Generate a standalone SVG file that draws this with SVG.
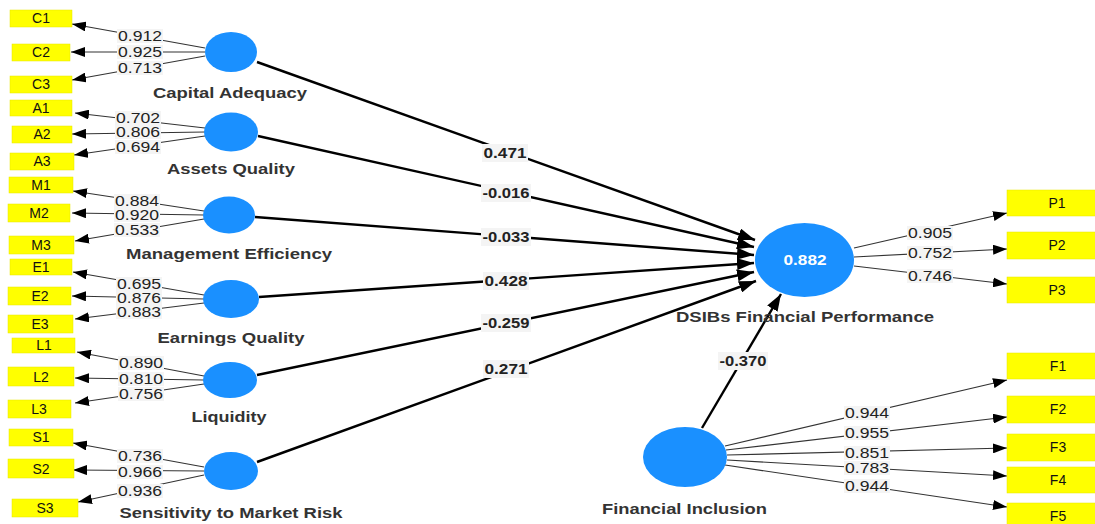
<svg xmlns="http://www.w3.org/2000/svg" width="1095" height="524" viewBox="0 0 1095 524">
<style>
.box{fill:#ffff00;stroke:#e6e600;stroke-width:0.5}
.bt{font-family:"Liberation Sans",Arial,sans-serif;font-size:14px;fill:#111;text-anchor:middle}
.lat{fill:#1a90ff}
.ll{font-family:"Liberation Sans",Arial,sans-serif;font-size:15px;font-weight:bold;fill:#333;text-anchor:middle}
.thin{stroke:#333;stroke-width:1.2;fill:none;marker-end:url(#ah)}
.thick{stroke:#000;stroke-width:2.4;fill:none;marker-end:url(#ahb)}
.lb{fill:#f4f4f4}
.ln{font-family:"Liberation Sans",Arial,sans-serif;font-size:14px;fill:#222;text-anchor:middle}
.pn{font-family:"Liberation Sans",Arial,sans-serif;font-size:14px;font-weight:bold;fill:#222;text-anchor:middle}
</style>
<defs>
<marker id="ah" markerUnits="userSpaceOnUse" markerWidth="14" markerHeight="10" refX="14" refY="5" orient="auto"><path d="M0,0 L14,5 L0,10 z" fill="#000"/></marker>
<marker id="ahb" markerUnits="userSpaceOnUse" markerWidth="17" markerHeight="12" refX="17" refY="6" orient="auto"><path d="M0,0 L17,6 L0,12 z" fill="#000"/></marker>
</defs>
<rect width="1095" height="524" fill="#fff"/>
<g id="connectors">
<line class="thin" x1="205" y1="48" x2="72" y2="24"/>
<line class="thin" x1="205" y1="52" x2="71" y2="52"/>
<line class="thin" x1="205" y1="56" x2="72" y2="80"/>
<line class="thin" x1="205" y1="128" x2="75" y2="113"/>
<line class="thin" x1="205" y1="132" x2="72" y2="134"/>
<line class="thin" x1="205" y1="136" x2="74" y2="155"/>
<line class="thin" x1="204" y1="211" x2="73" y2="191"/>
<line class="thin" x1="204" y1="215" x2="72" y2="213"/>
<line class="thin" x1="204" y1="219" x2="75" y2="241"/>
<line class="thin" x1="204" y1="295" x2="73" y2="272"/>
<line class="thin" x1="204" y1="299" x2="72" y2="296"/>
<line class="thin" x1="204" y1="303" x2="75" y2="319"/>
<line class="thin" x1="204" y1="376" x2="77" y2="352"/>
<line class="thin" x1="204" y1="380" x2="75" y2="378"/>
<line class="thin" x1="204" y1="384" x2="75" y2="403"/>
<line class="thin" x1="204" y1="467" x2="73" y2="443"/>
<line class="thin" x1="204" y1="471" x2="73" y2="470"/>
<line class="thin" x1="204" y1="475" x2="78" y2="502"/>
<line class="thin" x1="854" y1="248" x2="1007" y2="213"/>
<line class="thin" x1="854" y1="257" x2="1007" y2="249"/>
<line class="thin" x1="854" y1="266" x2="1007" y2="284"/>
<line class="thin" x1="725" y1="446" x2="1007" y2="380"/>
<line class="thin" x1="726" y1="450" x2="1007" y2="417"/>
<line class="thin" x1="727" y1="455" x2="1007" y2="448"/>
<line class="thin" x1="727" y1="460" x2="1007" y2="476"/>
<line class="thin" x1="725" y1="465" x2="1007" y2="507"/>
<line class="thick" x1="257" y1="62" x2="755" y2="240"/>
<line class="thick" x1="258" y1="136" x2="754" y2="247"/>
<line class="thick" x1="255" y1="217" x2="754" y2="255"/>
<line class="thick" x1="259" y1="297" x2="754" y2="263"/>
<line class="thick" x1="257" y1="375" x2="754" y2="272"/>
<line class="thick" x1="257" y1="462" x2="756" y2="281"/>
<line class="thick" x1="702" y1="428" x2="781" y2="294"/>
<g id="loading-labels">
<rect class="lb" x="117" y="29" width="46" height="14"/><text class="ln" x="140" y="41" textLength="44" lengthAdjust="spacingAndGlyphs">0.912</text>
<rect class="lb" x="117" y="45" width="46" height="14"/><text class="ln" x="140" y="57" textLength="44" lengthAdjust="spacingAndGlyphs">0.925</text>
<rect class="lb" x="117" y="61" width="46" height="14"/><text class="ln" x="140" y="73" textLength="44" lengthAdjust="spacingAndGlyphs">0.713</text>
<rect class="lb" x="115" y="111" width="46" height="14"/><text class="ln" x="138" y="123" textLength="44" lengthAdjust="spacingAndGlyphs">0.702</text>
<rect class="lb" x="115" y="125" width="46" height="14"/><text class="ln" x="138" y="137" textLength="44" lengthAdjust="spacingAndGlyphs">0.806</text>
<rect class="lb" x="115" y="140" width="46" height="14"/><text class="ln" x="138" y="152" textLength="44" lengthAdjust="spacingAndGlyphs">0.694</text>
<rect class="lb" x="114" y="194" width="46" height="14"/><text class="ln" x="137" y="206" textLength="44" lengthAdjust="spacingAndGlyphs">0.884</text>
<rect class="lb" x="114" y="208" width="46" height="14"/><text class="ln" x="137" y="220" textLength="44" lengthAdjust="spacingAndGlyphs">0.920</text>
<rect class="lb" x="114" y="223" width="46" height="14"/><text class="ln" x="137" y="235" textLength="44" lengthAdjust="spacingAndGlyphs">0.533</text>
<rect class="lb" x="116" y="277" width="46" height="14"/><text class="ln" x="139" y="289" textLength="44" lengthAdjust="spacingAndGlyphs">0.695</text>
<rect class="lb" x="116" y="291" width="46" height="14"/><text class="ln" x="139" y="303" textLength="44" lengthAdjust="spacingAndGlyphs">0.876</text>
<rect class="lb" x="116" y="305" width="46" height="14"/><text class="ln" x="139" y="317" textLength="44" lengthAdjust="spacingAndGlyphs">0.883</text>
<rect class="lb" x="118" y="356" width="46" height="14"/><text class="ln" x="141" y="368" textLength="44" lengthAdjust="spacingAndGlyphs">0.890</text>
<rect class="lb" x="118" y="372" width="46" height="14"/><text class="ln" x="141" y="384" textLength="44" lengthAdjust="spacingAndGlyphs">0.810</text>
<rect class="lb" x="118" y="387" width="46" height="14"/><text class="ln" x="141" y="399" textLength="44" lengthAdjust="spacingAndGlyphs">0.756</text>
<rect class="lb" x="117" y="449" width="46" height="14"/><text class="ln" x="140" y="461" textLength="44" lengthAdjust="spacingAndGlyphs">0.736</text>
<rect class="lb" x="117" y="465" width="46" height="14"/><text class="ln" x="140" y="477" textLength="44" lengthAdjust="spacingAndGlyphs">0.966</text>
<rect class="lb" x="117" y="484" width="46" height="14"/><text class="ln" x="140" y="496" textLength="44" lengthAdjust="spacingAndGlyphs">0.936</text>
<rect class="lb" x="907" y="226" width="46" height="14"/><text class="ln" x="930" y="238" textLength="44" lengthAdjust="spacingAndGlyphs">0.905</text>
<rect class="lb" x="907" y="246" width="46" height="14"/><text class="ln" x="930" y="258" textLength="44" lengthAdjust="spacingAndGlyphs">0.752</text>
<rect class="lb" x="907" y="269" width="46" height="14"/><text class="ln" x="930" y="281" textLength="44" lengthAdjust="spacingAndGlyphs">0.746</text>
<rect class="lb" x="844" y="406" width="46" height="14"/><text class="ln" x="867" y="418" textLength="44" lengthAdjust="spacingAndGlyphs">0.944</text>
<rect class="lb" x="844" y="426" width="46" height="14"/><text class="ln" x="867" y="438" textLength="44" lengthAdjust="spacingAndGlyphs">0.955</text>
<rect class="lb" x="844" y="446" width="46" height="14"/><text class="ln" x="867" y="458" textLength="44" lengthAdjust="spacingAndGlyphs">0.851</text>
<rect class="lb" x="844" y="461" width="46" height="14"/><text class="ln" x="867" y="473" textLength="44" lengthAdjust="spacingAndGlyphs">0.783</text>
<rect class="lb" x="844" y="479" width="46" height="14"/><text class="ln" x="867" y="491" textLength="44" lengthAdjust="spacingAndGlyphs">0.944</text>
</g>
<g id="path-labels">
<rect class="lb" x="482" y="144" width="46" height="18"/><text class="pn" x="505" y="158" textLength="43" lengthAdjust="spacingAndGlyphs">0.471</text>
<rect class="lb" x="481" y="184" width="50" height="18"/><text class="pn" x="506" y="198" textLength="47" lengthAdjust="spacingAndGlyphs">-0.016</text>
<rect class="lb" x="481" y="228" width="50" height="18"/><text class="pn" x="506" y="242" textLength="47" lengthAdjust="spacingAndGlyphs">-0.033</text>
<rect class="lb" x="483" y="272" width="46" height="18"/><text class="pn" x="506" y="286" textLength="43" lengthAdjust="spacingAndGlyphs">0.428</text>
<rect class="lb" x="481" y="314" width="50" height="18"/><text class="pn" x="506" y="328" textLength="47" lengthAdjust="spacingAndGlyphs">-0.259</text>
<rect class="lb" x="483" y="360" width="46" height="18"/><text class="pn" x="506" y="374" textLength="43" lengthAdjust="spacingAndGlyphs">0.271</text>
<rect class="lb" x="718" y="352" width="50" height="18"/><text class="pn" x="743" y="366" textLength="47" lengthAdjust="spacingAndGlyphs">-0.370</text>
</g>
</g>
<g id="C1"><rect class="box" x="10" y="10" width="62" height="17"/><text class="bt" x="41" y="23">C1</text></g>
<g id="C2"><rect class="box" x="12" y="44" width="58" height="17"/><text class="bt" x="41" y="57">C2</text></g>
<g id="C3"><rect class="box" x="10" y="76" width="62" height="17"/><text class="bt" x="41" y="89">C3</text></g>
<g id="A1"><rect class="box" x="10" y="100" width="62" height="16"/><text class="bt" x="41" y="113">A1</text></g>
<g id="A2"><rect class="box" x="12" y="126" width="60" height="17"/><text class="bt" x="42" y="139">A2</text></g>
<g id="A3"><rect class="box" x="10" y="153" width="64" height="17"/><text class="bt" x="42" y="166">A3</text></g>
<g id="M1"><rect class="box" x="9" y="177" width="64" height="16"/><text class="bt" x="41" y="190">M1</text></g>
<g id="M2"><rect class="box" x="8" y="204" width="62" height="18"/><text class="bt" x="39" y="218">M2</text></g>
<g id="M3"><rect class="box" x="9" y="236" width="65" height="18"/><text class="bt" x="41" y="250">M3</text></g>
<g id="E1"><rect class="box" x="10" y="259" width="62" height="16"/><text class="bt" x="41" y="272">E1</text></g>
<g id="E2"><rect class="box" x="8" y="287" width="63" height="18"/><text class="bt" x="40" y="301">E2</text></g>
<g id="E3"><rect class="box" x="8" y="315" width="65" height="18"/><text class="bt" x="40" y="329">E3</text></g>
<g id="L1"><rect class="box" x="12" y="338" width="63" height="15"/><text class="bt" x="44" y="350">L1</text></g>
<g id="L2"><rect class="box" x="8" y="367" width="66" height="19"/><text class="bt" x="41" y="382">L2</text></g>
<g id="L3"><rect class="box" x="8" y="400" width="63" height="18"/><text class="bt" x="39" y="414">L3</text></g>
<g id="S1"><rect class="box" x="9" y="429" width="64" height="17"/><text class="bt" x="41" y="442">S1</text></g>
<g id="S2"><rect class="box" x="8" y="459" width="66" height="19"/><text class="bt" x="41" y="474">S2</text></g>
<g id="S3"><rect class="box" x="12" y="499" width="66" height="18"/><text class="bt" x="45" y="513">S3</text></g>
<g id="P1"><rect class="box" x="1007" y="190" width="100" height="26"/><text class="bt" x="1057" y="208">P1</text></g>
<g id="P2"><rect class="box" x="1007" y="232" width="100" height="27"/><text class="bt" x="1057" y="250">P2</text></g>
<g id="P3"><rect class="box" x="1007" y="277" width="100" height="26"/><text class="bt" x="1057" y="295">P3</text></g>
<g id="F1"><rect class="box" x="1007" y="353" width="100" height="26"/><text class="bt" x="1058" y="371">F1</text></g>
<g id="F2"><rect class="box" x="1007" y="396" width="100" height="27"/><text class="bt" x="1058" y="414">F2</text></g>
<g id="F3"><rect class="box" x="1007" y="434" width="100" height="27"/><text class="bt" x="1058" y="452">F3</text></g>
<g id="F4"><rect class="box" x="1007" y="467" width="100" height="26"/><text class="bt" x="1058" y="485">F4</text></g>
<g id="F5"><rect class="box" x="1007" y="503" width="100" height="26"/><text class="bt" x="1058" y="521">F5</text></g>
<g id="capital-adequacy"><ellipse class="lat" cx="231" cy="52" rx="26" ry="20"/><text class="ll" x="230" y="98" textLength="154" lengthAdjust="spacingAndGlyphs">Capital Adequacy</text></g>
<g id="assets-quality"><ellipse class="lat" cx="231" cy="132" rx="27" ry="19.5"/><text class="ll" x="231" y="174" textLength="128" lengthAdjust="spacingAndGlyphs">Assets Quality</text></g>
<g id="management-efficiency"><ellipse class="lat" cx="229" cy="215" rx="26" ry="18.5"/><text class="ll" x="229" y="259" textLength="206" lengthAdjust="spacingAndGlyphs">Management Efficiency</text></g>
<g id="earnings-quality"><ellipse class="lat" cx="231" cy="299" rx="28" ry="19"/><text class="ll" x="231" y="343" textLength="147" lengthAdjust="spacingAndGlyphs">Earnings Quality</text></g>
<g id="liquidity"><ellipse class="lat" cx="230" cy="380" rx="27" ry="18"/><text class="ll" x="229" y="422" textLength="75" lengthAdjust="spacingAndGlyphs">Liquidity</text></g>
<g id="sensitivity"><ellipse class="lat" cx="231" cy="471" rx="27" ry="19"/><text class="ll" x="231" y="518" textLength="223" lengthAdjust="spacingAndGlyphs">Sensitivity to Market Risk</text></g>
<g id="dsibs"><ellipse class="lat" cx="804.5" cy="260" rx="49.5" ry="37"/><text x="805" y="265" font-family="Liberation Sans, Arial, sans-serif" font-size="14" font-weight="bold" fill="#fff" text-anchor="middle" textLength="43" lengthAdjust="spacingAndGlyphs">0.882</text><text class="ll" x="805" y="322" textLength="258" lengthAdjust="spacingAndGlyphs">DSIBs Financial Performance</text></g>
<g id="financial-inclusion"><ellipse class="lat" cx="685" cy="457" rx="42" ry="30"/><text class="ll" x="684.5" y="514" textLength="165" lengthAdjust="spacingAndGlyphs">Financial Inclusion</text></g>
</svg>
